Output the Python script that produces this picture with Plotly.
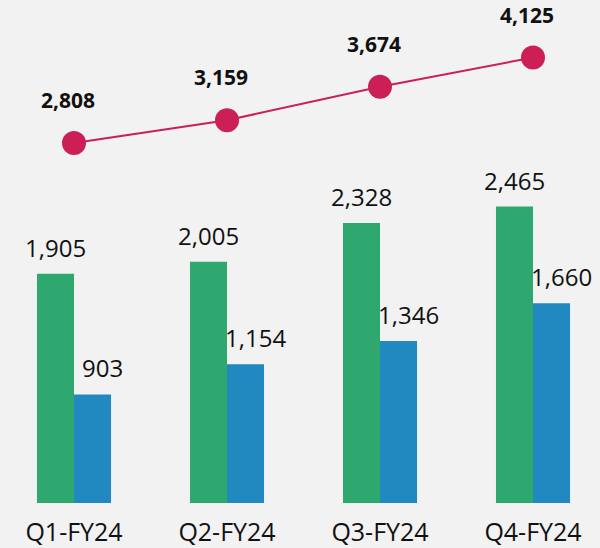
import plotly.graph_objects as go

categories = ["Q1-FY24", "Q2-FY24", "Q3-FY24", "Q4-FY24"]
green_values = [1905, 2005, 2328, 2465]
blue_values = [903, 1154, 1346, 1660]
line_values = [2808, 3159, 3674, 4125]

GREEN = "#2ea86e"
BLUE = "#2188c0"
RED = "#cc1f56"
BG = "#f2f2f2"
FONT = "Open Sans"

fig = go.Figure()
fig.add_trace(go.Bar(x=categories, y=green_values, marker=dict(color=GREEN, line=dict(width=0)),
                     yaxis="y", hoverinfo="skip"))
fig.add_trace(go.Bar(x=categories, y=blue_values, marker=dict(color=BLUE, line=dict(width=0)),
                     yaxis="y", hoverinfo="skip"))
fig.add_trace(go.Scatter(x=categories, y=line_values, mode="lines+markers", yaxis="y2",
                         line=dict(color=RED, width=2),
                         marker=dict(color=RED, size=24, line=dict(width=0)), hoverinfo="skip"))

annotations = []
for c, v in zip(categories, green_values):
    annotations.append(dict(x=c, y=v, xref="x", yref="y", text=f"{v:,}", showarrow=False,
                            xshift=-18.5, yshift=8, yanchor="bottom",
                            font=dict(family=FONT, size=24, color="#111111")))
for c, v in zip(categories, blue_values):
    annotations.append(dict(x=c, y=v, xref="x", yref="y", text=f"{v:,}", showarrow=False,
                            xshift=28, yshift=8, yanchor="bottom",
                            font=dict(family=FONT, size=24, color="#111111")))
for c, v in zip(categories, line_values):
    annotations.append(dict(x=c, y=v, xref="x", yref="y2", text=f"<b>{v:,}</b>", showarrow=False,
                            xshift=-6, yshift=27, yanchor="bottom",
                            font=dict(family=FONT, size=21, color="#111111")))

fig.update_layout(
    width=600, height=548,
    margin=dict(l=0, r=0, t=0, b=42),
    paper_bgcolor=BG, plot_bgcolor=BG,
    showlegend=False,
    barmode="group", bargap=0.516, bargroupgap=0,
    annotations=annotations,
    xaxis=dict(range=[-0.4837, 3.4379], showgrid=False, zeroline=False, showline=False,
               ticks="", tickfont=dict(family=FONT, size=25, color="#111111"),
               ticklabelstandoff=12),
    yaxis=dict(range=[0, 4182], visible=False),
    yaxis2=dict(range=[-2738, 5011], visible=False, overlaying="y"),
)

fig.write_html("out.html", config={"displayModeBar": False},
               post_script="document.body.style.margin='0';document.body.style.background='#f2f2f2';")
